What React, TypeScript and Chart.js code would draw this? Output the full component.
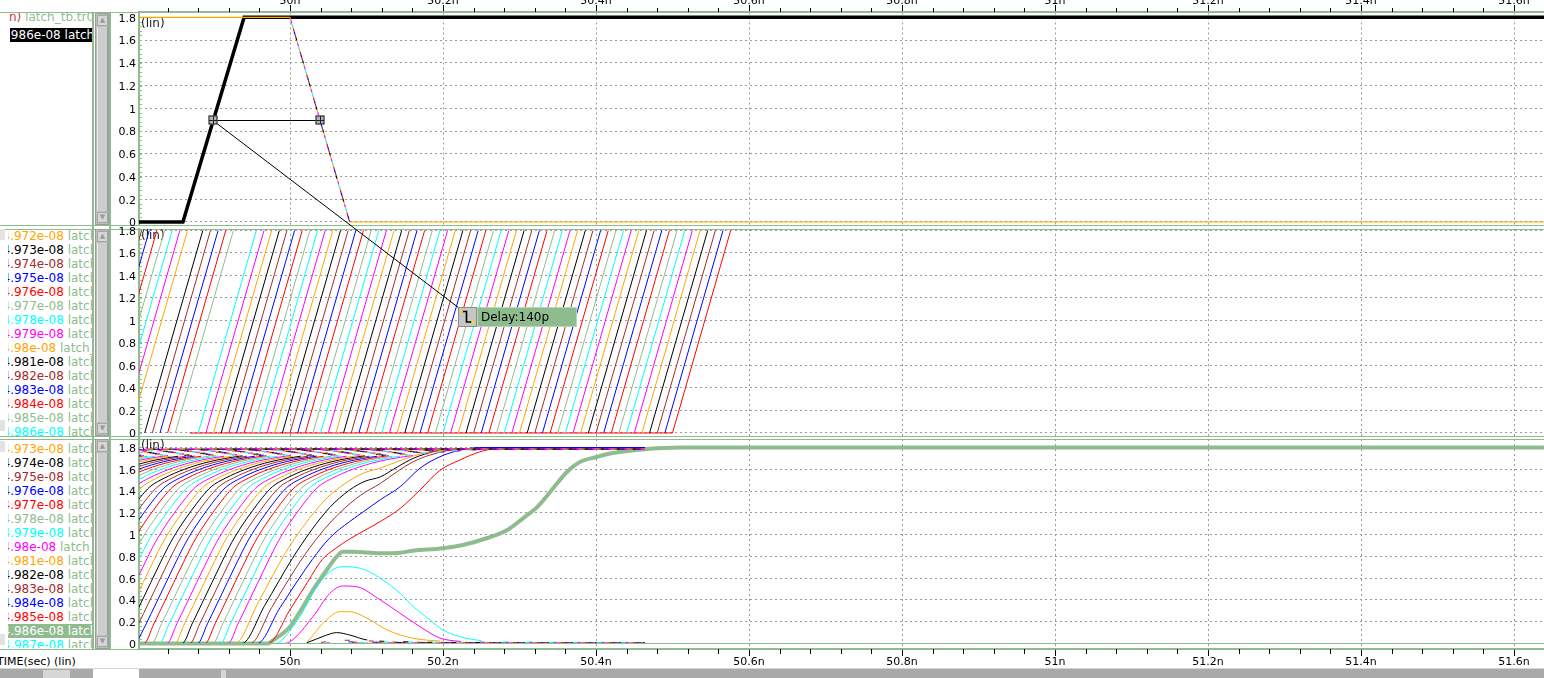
import React, { useEffect, useRef } from 'react';
import { Chart, registerables } from 'chart.js';

Chart.register(...registerables);

const FONT = "'DejaVu Sans', 'Liberation Sans', sans-serif";
Chart.defaults.font.family = FONT;

const GREEN = '#8fbc8f';
const GRID = '#9a9a9a';
const CYCLE = ['#ffa500', '#000000', '#a52a2a', '#0000ff', '#ff0000', '#8fbc8f', '#00ffff', '#ff00ff'];
const colorOf = (i: number) => CYCLE[((i % 8) + 8) % 8];

// ---------- axes ----------
const X_MIN = 49.8026;
const X_MAX = 51.6392;
const X_MAJOR = [50.0, 50.2, 50.4, 50.6, 50.8, 51.0, 51.2, 51.4, 51.6];
const X_MINOR_STEP = 0.04;
const Y_TICKS = [0, 0.2, 0.4, 0.6, 0.8, 1.0, 1.2, 1.4, 1.6, 1.8];
const Y_MINOR_STEP = 0.04;
const P1_Y = [-0.0264, 1.8466];
const P2_Y = [-0.0356, 1.8133];
const P3_Y = [-0.0505, 1.878];

// ---------- panel 1 : clock and falling node ----------
const clockT = [49.8026, 49.86, 49.94, 51.6392];
const clockV = [0, 0, 1.8, 1.8];
const fallT = [49.8026, 50.0, 50.078, 51.6392];
const fallV = [1.8, 1.8, 0, 0];
const fallColorOrder = [1, 2, 3, 4, 5, 6, 7];
const delayFrom = 49.899;
const delayTo = 50.039;
const delayLevel = 0.9;
const delayText = 'Delay:140p';
const delayLabelAt = [50.22, 1.12];

// ---------- panel 2 : swept data ramps ----------
const p2RiseStart = [
  49.73, 49.74, 49.75, 49.76, 49.77, 49.78, 49.79,
  49.81, 49.82, 49.83, 49.84, 49.85,
  49.88, 49.89, 49.90, 49.91, 49.92, 49.93, 49.94, 49.95, 49.96, 49.97,
  49.98, 49.99, 50.00, 50.01, 50.02, 50.03, 50.04, 50.05, 50.06, 50.07,
  50.08, 50.09, 50.10, 50.11, 50.12, 50.13, 50.14, 50.15, 50.16, 50.17,
  50.18, 50.19, 50.20, 50.21, 50.22, 50.23, 50.24, 50.25, 50.26, 50.27,
  50.28, 50.29, 50.30, 50.31, 50.32, 50.33, 50.34, 50.35, 50.36, 50.37,
  50.38, 50.39, 50.40, 50.41, 50.42, 50.43, 50.44, 50.45, 50.46, 50.47,
  50.48, 50.49, 50.50,
];
const p2RampTime = 0.076;
const p2High = 1.8;
const p2LastBaseStart = 49.869;

// ---------- panel 3 : latch outputs ----------
const p3BulkFirstSweep = 932;
const p3BulkStart = [
  49.439, 49.449, 49.459, 49.469, 49.479, 49.489, 49.499, 49.509, 49.519, 49.529,
  49.539, 49.549, 49.559, 49.569, 49.579, 49.589, 49.599, 49.609, 49.619, 49.629,
  49.639, 49.649, 49.659, 49.669, 49.679, 49.689, 49.699, 49.709, 49.719, 49.729,
  49.739, 49.749, 49.759, 49.769, 49.779, 49.789, 49.799, 49.809, 49.819, 49.829,
  49.839, 49.849, 49.859, 49.869, 49.879, 49.889, 49.899, 49.909, 49.919,
];
const p3RiseDt = [0, 0.013, 0.026, 0.039, 0.052, 0.065, 0.078, 0.092, 0.105, 0.118, 0.137, 0.163, 0.196, 0.235, 0.288, 0.366];
const p3RiseV = [0, 0.18, 0.37, 0.56, 0.75, 0.93, 1.08, 1.22, 1.34, 1.44, 1.52, 1.6, 1.67, 1.72, 1.76, 1.785];
const p3TailEnd = 50.464;

const q981 = [[49.8026, 0], [49.928, 0], [49.958, 0.37], [49.993, 0.82], [50.02, 1.1], [50.046, 1.32], [50.072, 1.47], [50.098, 1.57], [50.118, 1.61], [50.144, 1.68], [50.176, 1.75], [50.209, 1.78], [50.248, 1.79], [50.464, 1.79]];
const q982 = [[49.8026, 0], [49.937, 0], [49.967, 0.35], [50.003, 0.78], [50.029, 1.05], [50.052, 1.25], [50.078, 1.41], [50.098, 1.49], [50.118, 1.53], [50.14, 1.62], [50.161, 1.7], [50.192, 1.77], [50.218, 1.79], [50.464, 1.79]];
const q983 = [[49.8026, 0], [49.948, 0], [49.976, 0.33], [50.013, 0.75], [50.039, 1.0], [50.065, 1.2], [50.092, 1.36], [50.118, 1.47], [50.14, 1.578], [50.161, 1.669], [50.183, 1.731], [50.205, 1.77], [50.226, 1.79], [50.464, 1.79]];
const q984 = [[49.8026, 0], [49.957, 0], [49.987, 0.33], [50.029, 0.77], [50.052, 0.97], [50.078, 1.12], [50.098, 1.22], [50.118, 1.32], [50.144, 1.44], [50.17, 1.61], [50.196, 1.715], [50.222, 1.775], [50.248, 1.8], [50.464, 1.8]];
const q985 = [[49.8026, 0], [49.971, 0], [50.0, 0.31], [50.02, 0.53], [50.042, 0.77], [50.059, 0.87], [50.078, 0.96], [50.098, 1.04], [50.118, 1.12], [50.144, 1.24], [50.17, 1.41], [50.196, 1.59], [50.222, 1.685], [50.248, 1.76], [50.268, 1.79], [50.294, 1.8], [50.464, 1.8]];
const q986 = [[49.8026, 0], [49.971, 0], [49.978, 0.03], [50.0, 0.154], [50.013, 0.292], [50.03, 0.491], [50.048, 0.675], [50.061, 0.797], [50.069, 0.843], [50.082, 0.843], [50.118, 0.828], [50.144, 0.834], [50.161, 0.852], [50.2, 0.874], [50.226, 0.905], [50.258, 0.969], [50.284, 1.042], [50.305, 1.152], [50.323, 1.253], [50.34, 1.391], [50.362, 1.575], [50.379, 1.667], [50.401, 1.713], [50.422, 1.749], [50.467, 1.786], [50.51, 1.8], [51.6392, 1.8]];
const q987 = [[49.8026, 0], [49.978, 0], [49.987, 0.017], [50.0, 0.12], [50.013, 0.246], [50.035, 0.52], [50.052, 0.66], [50.069, 0.705], [50.092, 0.69], [50.118, 0.6], [50.144, 0.46], [50.161, 0.34], [50.183, 0.216], [50.2, 0.124], [50.222, 0.062], [50.244, 0.032], [50.261, 0.017], [50.301, 0.01], [50.464, 0.008]];
const q988 = [[49.8026, 0], [49.99, 0], [50.0, 0.016], [50.03, 0.246], [50.052, 0.46], [50.069, 0.528], [50.088, 0.52], [50.118, 0.4], [50.144, 0.277], [50.17, 0.154], [50.196, 0.05], [50.222, 0.02], [50.26, 0.01], [50.464, 0.008]];
const q989 = [[49.8026, 0], [50.015, 0], [50.022, 0.016], [50.043, 0.185], [50.065, 0.292], [50.078, 0.292], [50.101, 0.231], [50.127, 0.124], [50.161, 0.048], [50.196, 0.023], [50.25, 0.012], [50.464, 0.008]];
const q990 = [[49.8026, 0], [50.018, 0], [50.022, 0.007], [50.048, 0.078], [50.061, 0.1], [50.078, 0.078], [50.101, 0.032], [50.144, 0.017], [50.2, 0.01], [50.464, 0.008]];
const q991 = [[49.8026, 0], [50.03, 0], [50.05, 0.02], [50.07, 0.03], [50.1, 0.025], [50.14, 0.012], [50.464, 0.007]];
const q992 = [[49.8026, 0], [50.04, 0], [50.07, 0.015], [50.11, 0.012], [50.2, 0.006], [50.464, 0.005]];
const q993 = [[49.8026, 0], [50.05, 0], [50.09, 0.012], [50.18, 0.008], [50.464, 0.006]];
const q994 = [[49.8026, 0], [50.06, 0], [50.1, 0.009], [50.464, 0.004]];
const q995 = [[49.8026, 0], [50.07, 0], [50.11, 0.014], [50.464, 0.01]];
const q996 = [[49.8026, 0], [50.08, 0], [50.12, 0.006], [50.464, 0.005]];
const q997 = [[49.8026, 0], [50.09, 0], [50.13, 0.011], [50.464, 0.008]];
const q998 = [[49.8026, 0], [50.1, 0], [50.14, 0.008], [50.464, 0.006]];
const p3Ref = [[49.8026, 0], [51.6392, 0]];

// ---------- legend lists ----------
const p2Legend = ['4.971e-08', '4.972e-08', '4.973e-08', '4.974e-08', '4.975e-08', '4.976e-08', '4.977e-08', '4.978e-08', '4.979e-08', '4.98e-08', '4.981e-08', '4.982e-08', '4.983e-08', '4.984e-08', '4.985e-08', '4.986e-08'];
const p3Legend = ['4.973e-08', '4.974e-08', '4.975e-08', '4.976e-08', '4.977e-08', '4.978e-08', '4.979e-08', '4.98e-08', '4.981e-08', '4.982e-08', '4.983e-08', '4.984e-08', '4.985e-08', '4.986e-08', '4.987e-08'];
const legendName = ' latch_tb.tr0';

// ---------- helpers ----------
const xTickVals: number[] = [];
for (let k = -6; k <= 50; k++) {
  const v = +(50 + k * X_MINOR_STEP).toFixed(2);
  if (v >= X_MIN && v <= X_MAX) xTickVals.push(v);
}
const isMajor = (v: number) => X_MAJOR.some((m) => Math.abs(m - v) < 1e-6);
const fmtX = (v: number) => `${+v.toFixed(1)}n`;
const fmtY = (v: number) => `${+(+v).toFixed(1)}`;
const pts = (pairs: number[][]) => pairs.map(([x, y]) => ({ x, y }));

const decoPlugin = {
  id: 'deco',
  beforeDatasetsDraw(chart: any) {
    const o = chart.options.plugins.deco || {};
    const { ctx, chartArea: a } = chart;
    const xs = chart.scales.x;
    const ys = chart.scales.y;
    ctx.save();
    ctx.strokeStyle = GREEN;
    ctx.lineWidth = 1;
    ctx.beginPath();
    for (let k = 0; k * Y_MINOR_STEP <= 1.8001; k++) {
      const py = Math.round(ys.getPixelForValue(k * Y_MINOR_STEP)) + 0.5;
      ctx.moveTo(a.left, py);
      ctx.lineTo(a.left + 3, py);
    }
    ctx.stroke();
    if (o.xMode === 'top' || o.xMode === 'bottom') {
      ctx.strokeStyle = '#000';
      ctx.beginPath();
      for (const v of xTickVals) {
        if (isMajor(v)) continue;
        const px = Math.round(xs.getPixelForValue(v)) + 0.5;
        if (o.xMode === 'top') {
          ctx.moveTo(px, a.top - 4);
          ctx.lineTo(px, a.top);
        } else {
          ctx.moveTo(px, a.bottom);
          ctx.lineTo(px, a.bottom + 5);
        }
      }
      ctx.stroke();
    }
    ctx.font = `12px ${FONT}`;
    ctx.fillStyle = '#1a1a1a';
    ctx.textBaseline = 'top';
    ctx.textAlign = 'left';
    ctx.fillText('(lin)', a.left + 2, a.top + o.linDy);
    ctx.restore();
  },
};

function buildOptions(yRange: number[], xMode: string, linDy: number, pad: number[]) {
  const showX = xMode !== 'none';
  return {
    animation: false,
    responsive: false,
    maintainAspectRatio: false,
    devicePixelRatio: 1,
    events: [],
    layout: { padding: { top: pad[0], bottom: pad[1], left: 0, right: 0 } },
    elements: { point: { radius: 0, hitRadius: 0, hoverRadius: 0 }, line: { borderWidth: 1, tension: 0 } },
    plugins: { legend: { display: false }, tooltip: { enabled: false }, deco: { linDy, xMode } },
    scales: {
      x: {
        type: 'linear',
        position: xMode === 'top' ? 'top' : 'bottom',
        min: X_MIN,
        max: X_MAX,
        afterBuildTicks: (s: any) => {
          s.ticks = xTickVals.map((v) => ({ value: v }));
        },
        afterFit: (s: any) => {
          s.height = xMode === 'top' ? 22 : xMode === 'bottom' ? 19 : 0;
          s.paddingLeft = 0;
          s.paddingRight = 0;
        },
        ticks: {
          display: showX,
          autoSkip: false,
          maxRotation: 0,
          minRotation: 0,
          padding: xMode === 'top' ? -3 : 0,
          color: '#000',
          font: { size: 11, family: FONT },
          callback: (v: any) => (isMajor(+v) ? fmtX(+v) : ''),
        },
        grid: {
          display: true,
          drawTicks: showX,
          tickLength: 7,
          lineWidth: 1,
          color: (c: any) => (c.tick && isMajor(c.tick.value) ? GRID : 'rgba(0,0,0,0)'),
          tickColor: (c: any) => (c.tick && isMajor(c.tick.value) ? '#000' : 'rgba(0,0,0,0)'),
        },
        border: { display: showX, color: GREEN, width: 1.5, dash: [2, 3] },
      },
      y: {
        type: 'linear',
        position: 'left',
        min: yRange[0],
        max: yRange[1],
        afterBuildTicks: (s: any) => {
          s.ticks = Y_TICKS.map((v) => ({ value: v }));
        },
        afterFit: (s: any) => {
          s.width = 31;
          s.paddingTop = 0;
          s.paddingBottom = 0;
        },
        ticks: { padding: 3, color: '#000', font: { size: 11, family: FONT }, labelOffset: 1.5, callback: (v: any) => fmtY(v) },
        grid: { color: GRID, lineWidth: 1, drawTicks: false },
        border: { color: GREEN, width: 2, dash: [2, 3] },
      },
    },
  };
}

function panel1Datasets() {
  const ds: any[] = [];
  // the swept copies only differ on the falling edge: draw that edge in every colour
  fallColorOrder.forEach((c, i) => {
    ds.push({
      data: [{ x: fallT[1], y: fallV[1] }, { x: fallT[2], y: fallV[2] }],
      borderColor: CYCLE[c],
      borderWidth: 1.2,
      borderDash: [3, 21],
      borderDashOffset: (i + 1) * 3,
    });
  });
  ds.push({
    data: fallT.map((t, k) => ({ x: t, y: fallV[k] })),
    borderColor: CYCLE[0],
    borderWidth: 1.2,
    segment: { borderDash: (s: any) => (s.p0.parsed.y - s.p1.parsed.y > 1 ? [3, 21] : undefined) },
  });
  ds.push({ data: clockT.map((t, k) => ({ x: t, y: clockV[k] })), borderColor: '#000', borderWidth: 3.5 });
  return ds;
}

function panel2Datasets() {
  const n = p2RiseStart.length;
  return p2RiseStart.map((t0, i) => {
    const data: any[] = [];
    if (i === n - 1) data.push({ x: p2LastBaseStart, y: 0 });
    data.push({ x: t0, y: 0 }, { x: +(t0 + p2RampTime).toFixed(4), y: p2High });
    return { data, borderColor: colorOf(4 - (n - 1 - i)), borderWidth: 1 };
  });
}

function panel3Datasets() {
  const ds: any[] = [];
  ds.push({ data: pts(p3Ref), borderColor: GREEN, borderWidth: 1 });
  p3BulkStart.forEach((t0, i) => {
    const data: any[] = [];
    if (t0 > X_MIN) data.push({ x: X_MIN, y: 0 });
    p3RiseDt.forEach((dt, k) => data.push({ x: +(t0 + dt).toFixed(4), y: p3RiseV[k] }));
    data.push({ x: p3TailEnd, y: p3RiseV[p3RiseV.length - 1] });
    ds.push({
      data,
      borderColor: colorOf(p3BulkFirstSweep + i - 973),
      borderWidth: 1,
      cubicInterpolationMode: 'monotone',
      borderDashOffset: (i * 5) % 16,
      segment: { borderDash: (s: any) => (s.p0.parsed.y > 1.7 && s.p1.parsed.y > 1.7 ? [5, 11] : undefined) },
    });
  });
  const ok = [q981, q982, q983, q984, q985];
  ok.forEach((q, i) => ds.push({ data: pts(q), borderColor: colorOf(981 + i - 973), borderWidth: 1, cubicInterpolationMode: 'monotone' }));
  const fail = [q987, q988, q989, q990, q991, q992, q993, q994, q995, q996, q997, q998];
  fail.forEach((q, i) =>
    ds.push({
      data: pts(q),
      borderColor: colorOf(987 + i - 973),
      borderWidth: 1,
      cubicInterpolationMode: 'monotone',
      borderDashOffset: i * 4,
      segment: { borderDash: (s: any) => (s.p0.parsed.x > 50.0 && s.p0.parsed.y < 0.035 && s.p1.parsed.y < 0.035 ? [5, 19] : undefined) },
    })
  );
  ds.push({ data: pts(q986), borderColor: GREEN, borderWidth: 4, cubicInterpolationMode: 'monotone' });
  return ds;
}

const C1 = { left: 108, top: -10, width: 1436, height: 241 };
const C2 = { left: 108, top: 222, width: 1436, height: 221 };
const C3 = { left: 108, top: 432, width: 1436, height: 236 };

function drawOverlay(cv: HTMLCanvasElement, c1: any, c2: any) {
  const ctx = cv.getContext('2d')!;
  ctx.clearRect(0, 0, cv.width, cv.height);
  const X1 = (t: number) => C1.left + c1.scales.x.getPixelForValue(t);
  const Y1 = (v: number) => C1.top + c1.scales.y.getPixelForValue(v);
  const X2 = (t: number) => C2.left + c2.scales.x.getPixelForValue(t);
  const Y2 = (v: number) => C2.top + c2.scales.y.getPixelForValue(v);
  const ax = Math.round(X1(delayFrom));
  const bx = Math.round(X1(delayTo));
  const ly = Math.round(Y1(delayLevel)) + 0.5;
  const lx = Math.round(X2(delayLabelAt[0]));
  const lt = Math.round(Y2(delayLabelAt[1]));
  ctx.strokeStyle = '#000';
  ctx.lineWidth = 1;
  ctx.beginPath();
  ctx.moveTo(ax, ly);
  ctx.lineTo(bx, ly);
  ctx.stroke();
  ctx.beginPath();
  ctx.moveTo(ax, ly);
  ctx.lineTo(lx + 1, lt + 1);
  ctx.stroke();
  const marker = (x: number, y: number) => {
    ctx.fillStyle = '#b4b4b4';
    ctx.fillRect(x - 4.5, y - 5, 9, 9);
    ctx.strokeStyle = '#202020';
    ctx.lineWidth = 1;
    ctx.strokeRect(x - 4, y - 4.5, 8, 8);
    ctx.beginPath();
    ctx.moveTo(x - 4, y);
    ctx.lineTo(x + 4, y);
    ctx.moveTo(x + 0.5, y - 4.5);
    ctx.lineTo(x + 0.5, y + 3.5);
    ctx.stroke();
  };
  marker(ax, ly);
  marker(bx, ly);
  const bh = 20;
  ctx.fillStyle = '#c6c6c6';
  ctx.fillRect(lx, lt, 19, bh);
  ctx.strokeStyle = '#8a8a8a';
  ctx.strokeRect(lx + 0.5, lt + 0.5, 18, bh - 1);
  ctx.strokeStyle = '#000';
  ctx.lineWidth = 1.6;
  ctx.beginPath();
  ctx.moveTo(lx + 3.5, lt + 4.5);
  ctx.lineTo(lx + 8.5, lt + 4.5);
  ctx.lineTo(lx + 8.5, lt + 15);
  ctx.lineTo(lx + 14.5, lt + 15);
  ctx.stroke();
  ctx.fillStyle = '#ffe000';
  ctx.beginPath();
  ctx.arc(lx + 3.5, lt + 4.5, 1.4, 0, Math.PI * 2);
  ctx.arc(lx + 14.5, lt + 15, 1.4, 0, Math.PI * 2);
  ctx.fill();
  ctx.fillStyle = GREEN;
  ctx.fillRect(lx + 19, lt, 100, bh);
  ctx.strokeStyle = '#b6d6b6';
  ctx.lineWidth = 1;
  ctx.strokeRect(lx + 19.5, lt + 0.5, 99, bh - 1);
  ctx.fillStyle = '#000';
  ctx.font = `12px ${FONT}`;
  ctx.textBaseline = 'middle';
  ctx.textAlign = 'left';
  ctx.fillText(delayText, lx + 23, lt + bh / 2 + 1);
}

function Row(props: any) {
  const { top, left = 0, num, color, hl, hlBg, shift } = props;
  return (
    <div style={{ position: 'absolute', left, top, height: 14, width: 85, background: hl ? hlBg : 'transparent', overflow: 'hidden', whiteSpace: 'nowrap' }}>
      <span style={{ position: 'absolute', left: shift, top: 0, lineHeight: '14px' }}>
        <span style={{ color: hl ? '#ffffff' : color }}>{num}</span>
        <span style={{ color: hl ? '#ffffff' : GREEN }}>{legendName}</span>
      </span>
    </div>
  );
}

function VScroll(props: any) {
  const { top, height } = props;
  const arrow = (t: number, ch: string) => (
    <div style={{ position: 'absolute', left: 1, top: t, width: 11, height: 11, background: '#d6d6d6', boxSizing: 'border-box', border: '1px solid #a6a6a6', fontSize: 7, lineHeight: '9px', textAlign: 'center', color: '#9a9a9a' }}>{ch}</div>
  );
  return (
    <div style={{ position: 'absolute', left: 95, top, width: 14, height, background: '#bdbdbd', boxSizing: 'border-box', border: '1px solid #9c9c9c' }}>
      {arrow(1, '▲')}
      <div style={{ position: 'absolute', left: 1, top: 13, width: 11, height: height - 28, background: '#cdcdcd', boxSizing: 'border-box', borderLeft: '1px solid #e8e8e8', borderRight: '1px solid #a0a0a0' }} />
      {arrow(height - 14, '▼')}
    </div>
  );
}

const hline = (y: number, h = 1) => <div key={`h${y}`} style={{ position: 'absolute', left: 0, top: y, width: 1544, height: h, background: GREEN }} />;

export default function App() {
  const r1 = useRef<HTMLCanvasElement>(null);
  const r2 = useRef<HTMLCanvasElement>(null);
  const r3 = useRef<HTMLCanvasElement>(null);
  const rO = useRef<HTMLCanvasElement>(null);

  useEffect(() => {
    const c1 = new Chart(r1.current as any, { type: 'line', data: { datasets: panel1Datasets() }, options: buildOptions(P1_Y, 'top', 6, [0, 6]) as any, plugins: [decoPlugin] });
    const c2 = new Chart(r2.current as any, { type: 'line', data: { datasets: panel2Datasets() }, options: buildOptions(P2_Y, 'none', 1, [7, 6]) as any, plugins: [decoPlugin] });
    const c3 = new Chart(r3.current as any, { type: 'line', data: { datasets: panel3Datasets() }, options: buildOptions(P3_Y, 'bottom', 0.5, [7, 0]) as any, plugins: [decoPlugin] });
    if (rO.current) drawOverlay(rO.current, c1, c2);
    return () => {
      c1.destroy();
      c2.destroy();
      c3.destroy();
    };
  }, []);

  const cs = (c: any) => ({ position: 'absolute' as const, left: c.left, top: c.top, width: c.width, height: c.height });

  return (
    <div style={{ position: 'fixed', left: 0, top: 0, width: 1544, height: 678, background: '#ffffff', overflow: 'hidden', fontFamily: FONT, fontSize: 12 }}>
      {hline(11.5, 1.5)}
      {hline(224.5)}
      {hline(228.5)}
      {hline(436)}
      {hline(438.5)}
      {hline(648.5, 1.5)}
      <div style={{ position: 'absolute', left: 92, top: 12, width: 2, height: 637, background: GREEN }} />
      <div style={{ position: 'absolute', left: 109, top: 12, width: 2, height: 637, background: GREEN }} />

      {/* legend panel 1 */}
      <div style={{ position: 'absolute', left: 8, top: 13, width: 84, height: 211, overflow: 'hidden' }}>
        <div style={{ position: 'absolute', left: 1, top: -3, lineHeight: '14px', whiteSpace: 'nowrap' }}>
          <span style={{ color: '#c04040' }}>n)</span>
          <span style={{ color: GREEN }}>{legendName}</span>
        </div>
        <Row top={15} left={2} num="4.986e-08" color="#000" hl hlBg="#000000" shift={-10.6} />
      </div>
      {/* legend panel 2 */}
      <div style={{ position: 'absolute', left: 8, top: 227, width: 84, height: 209, overflow: 'hidden' }}>
        {p2Legend.map((s, k) => (
          <Row key={s} top={215 + 14 * k - 227} num={s} color={colorOf(7 + k)} shift={-5.5} />
        ))}
      </div>
      {/* legend panel 3 */}
      <div style={{ position: 'absolute', left: 8, top: 440, width: 84, height: 208, overflow: 'hidden' }}>
        {p3Legend.map((s, k) => (
          <Row key={s} top={442 + 14 * k - 440} num={s} color={colorOf(k)} hl={k === 13} hlBg={GREEN} shift={-5.5} />
        ))}
      </div>
      <div style={{ position: 'absolute', left: 0, top: 229, width: 5, height: 11, background: '#e2e2e2' }} />
      <div style={{ position: 'absolute', left: 0, top: 420, width: 5, height: 11, background: '#e2e2e2' }} />
      <div style={{ position: 'absolute', left: 0, top: 441, width: 5, height: 11, background: '#e2e2e2' }} />
      <div style={{ position: 'absolute', left: 0, top: 634, width: 5, height: 11, background: '#e2e2e2' }} />

      <VScroll top={13} height={212} />
      <VScroll top={229} height={207} />
      <VScroll top={439} height={210} />

      <div style={{ position: 'absolute', left: -3, top: 655, fontSize: 11, lineHeight: '14px', color: '#000', whiteSpace: 'nowrap' }}>TIME(sec) (lin)</div>

      <div style={{ position: 'absolute', left: 0, top: 668, width: 1544, height: 10, background: '#a9a9a9', borderTop: '1px solid #c8dcc8' }} />
      <div style={{ position: 'absolute', left: 43, top: 670, width: 27, height: 8, background: '#d6d6d6' }} />
      <div style={{ position: 'absolute', left: 93, top: 669, width: 46, height: 9, background: '#ffffff' }} />
      <div style={{ position: 'absolute', left: 221, top: 670, width: 5, height: 8, background: '#d6d6d6' }} />

      <canvas ref={r1} width={C1.width} height={C1.height} style={cs(C1)} />
      <canvas ref={r2} width={C2.width} height={C2.height} style={cs(C2)} />
      <canvas ref={r3} width={C3.width} height={C3.height} style={cs(C3)} />
      <canvas ref={rO} width={1544} height={678} style={{ position: 'absolute', left: 0, top: 0, width: 1544, height: 678, pointerEvents: 'none' }} />
    </div>
  );
}
